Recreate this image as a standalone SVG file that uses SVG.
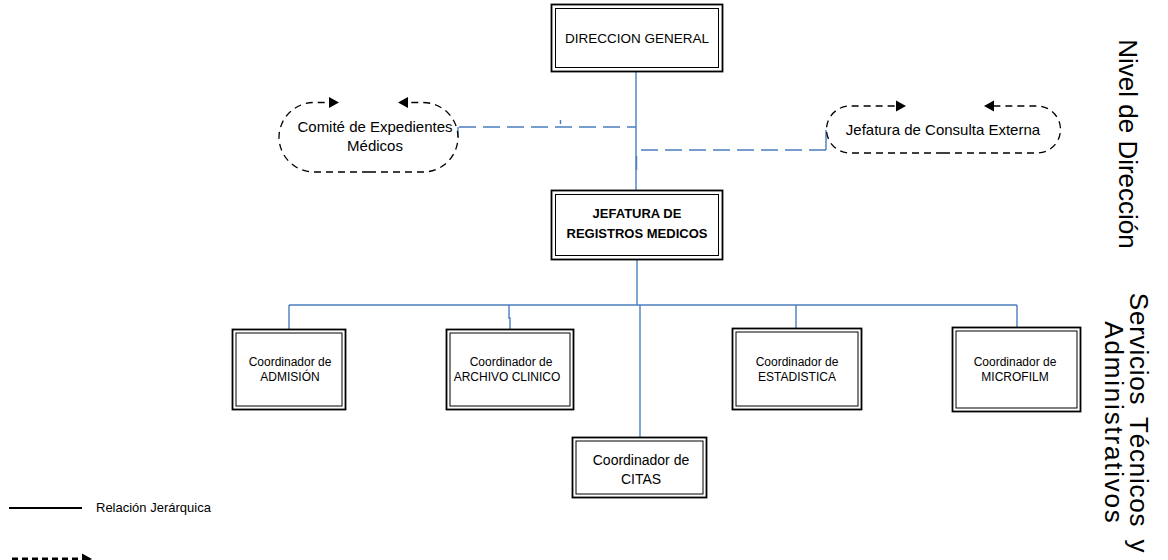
<svg xmlns="http://www.w3.org/2000/svg" width="1168" height="560" viewBox="0 0 1168 560">
  <defs>
    <style>
      .box-outer { fill: #ffffff; stroke: #000000; stroke-width: 1.8; }
      .box-inner { fill: none; stroke: #000000; stroke-width: 1; }
      .lbl { font-family: "Liberation Sans", Arial, sans-serif; fill: #000000; text-anchor: middle; }
      .pill { fill: none; stroke: #000000; stroke-width: 1.3; stroke-dasharray: 7 5; }
      .link { fill: none; stroke: #4a7ebf; stroke-width: 1.4; }
      .link-dash { fill: none; stroke: #4a7ebf; stroke-width: 1.4; stroke-dasharray: 17 7; }
      .side { font-family: "Liberation Sans", Arial, sans-serif; font-size: 26px; fill: #000000; text-anchor: middle; }
    </style>
    <!-- arrowhead pointing right, tip at the origin -->
    <path id="tip" d="M-10,-5.5 L0,0 L-10,5.5 Z" fill="#000000"/>
  </defs>

  <!-- connectors -->
  <g id="connectors">
    <line class="link" x1="636" y1="72" x2="636" y2="190"/>
    <!-- advisory links -->
    <line class="link" x1="458" y1="127" x2="458" y2="137"/>
    <line class="link-dash" x1="459" y1="127" x2="636" y2="127"/>
    <line class="link" x1="560.5" y1="120" x2="560.5" y2="124"/>
    <line class="link" x1="826" y1="130" x2="826" y2="150"/>
    <line class="link-dash" x1="826" y1="150" x2="637" y2="150"/>
    <line class="link" x1="636.5" y1="156" x2="636.5" y2="170" stroke-width="2"/>
    <!-- hierarchy below the head of records -->
    <line class="link" x1="637" y1="260" x2="637" y2="305"/>
    <line class="link" x1="289" y1="305" x2="1017" y2="305"/>
    <line class="link" x1="289" y1="305" x2="289" y2="329"/>
    <polyline class="link" points="509,305 509,318 510,318 510,329"/>
    <line class="link" x1="640" y1="305" x2="640" y2="437"/>
    <line class="link" x1="796" y1="305" x2="796" y2="328"/>
    <line class="link" x1="1017" y1="305" x2="1017" y2="327"/>
  </g>

  <!-- top level -->
  <g id="direccion-general">
    <rect class="box-outer" x="551.5" y="4.5" width="171" height="67"/>
    <rect class="box-inner" x="555.5" y="8.5" width="163" height="59"/>
    <text class="lbl" x="637" y="43" font-size="13.5">DIRECCION GENERAL</text>
  </g>

  <g id="comite-expedientes">
    <path class="pill" d="M369,172 L314,172 A35,35 0 0 1 279,137 A35,35 0 0 1 314,102.5 L330,102.5"/>
    <path class="pill" d="M369,172 L423,172 A35,35 0 0 0 458,137 A35,35 0 0 0 423,102.5 L407,102.5"/>
    <use href="#tip" transform="translate(339,102.5)"/>
    <use href="#tip" transform="translate(398,102.5) rotate(180)"/>
    <text class="lbl" x="375" y="132" font-size="15">Comité de Expedientes</text>
    <text class="lbl" x="375" y="151" font-size="15">Médicos</text>
  </g>

  <g id="consulta-externa">
    <path class="pill" d="M943,153 L850,153 A23.5,23.5 0 0 1 826.5,129.5 A23.5,23.5 0 0 1 850,106 L897,106"/>
    <path class="pill" d="M943,153 L1037,153 A23.5,23.5 0 0 0 1060.5,129.5 A23.5,23.5 0 0 0 1037,106 L993,106"/>
    <use href="#tip" transform="translate(906,106)"/>
    <use href="#tip" transform="translate(984,106) rotate(180)"/>
    <text class="lbl" x="943" y="135" font-size="15">Jefatura de Consulta Externa</text>
  </g>

  <g id="jefatura-registros">
    <rect class="box-outer" x="551.5" y="190.5" width="171" height="69"/>
    <rect class="box-inner" x="555.5" y="194.5" width="163" height="61"/>
    <text class="lbl" x="637" y="218" font-size="13" font-weight="bold">JEFATURA DE</text>
    <text class="lbl" x="637" y="238" font-size="13" font-weight="bold">REGISTROS MEDICOS</text>
  </g>

  <!-- coordinators -->
  <g id="coord-admision">
    <rect class="box-outer" x="232.5" y="329.5" width="113" height="80"/>
    <rect class="box-inner" x="236" y="333" width="106" height="73"/>
    <text class="lbl" x="290" y="366" font-size="12">Coordinador de</text>
    <text class="lbl" x="290" y="381" font-size="12">ADMISIÓN</text>
  </g>

  <g id="coord-archivo">
    <rect class="box-outer" x="446.5" y="329.5" width="127" height="80"/>
    <rect class="box-inner" x="450" y="333" width="120" height="73"/>
    <text class="lbl" x="511" y="366" font-size="12">Coordinador de</text>
    <text class="lbl" x="507" y="381" font-size="12">ARCHIVO CLINICO</text>
  </g>

  <g id="coord-estadistica">
    <rect class="box-outer" x="732.5" y="328.5" width="129" height="81"/>
    <rect class="box-inner" x="736" y="332" width="122" height="74"/>
    <text class="lbl" x="797" y="366" font-size="12">Coordinador de</text>
    <text class="lbl" x="797" y="381" font-size="12">ESTADISTICA</text>
  </g>

  <g id="coord-microfilm">
    <rect class="box-outer" x="952.5" y="327.5" width="128" height="84"/>
    <rect class="box-inner" x="956" y="331" width="121" height="77"/>
    <text class="lbl" x="1015" y="366" font-size="12">Coordinador de</text>
    <text class="lbl" x="1015" y="381" font-size="12">MICROFILM</text>
  </g>

  <g id="coord-citas">
    <rect class="box-outer" x="572.5" y="437.5" width="134" height="60"/>
    <rect class="box-inner" x="576" y="441" width="127" height="53"/>
    <text class="lbl" x="641" y="465" font-size="14">Coordinador de</text>
    <text class="lbl" x="641" y="484" font-size="14">CITAS</text>
  </g>

  <!-- level captions -->
  <text class="side" transform="translate(1119,144) rotate(90)">Nivel de Dirección</text>
  <text class="side" transform="translate(1130,423) rotate(90)" letter-spacing="0.8" word-spacing="4">Servicios Técnicos y</text>
  <text class="side" transform="translate(1105,423) rotate(90)" letter-spacing="1.8">Administrativos</text>

  <!-- legend -->
  <g id="legend">
    <line x1="9" y1="508" x2="82" y2="508" stroke="#000000" stroke-width="2"/>
    <text x="96" y="512" font-family="'Liberation Sans', Arial, sans-serif" font-size="13" fill="#000000">Relación Jerárquica</text>
    <line x1="12" y1="559" x2="82" y2="559" stroke="#000000" stroke-width="3" stroke-dasharray="6 4"/>
    <use href="#tip" transform="translate(92,559)"/>
  </g>
</svg>
